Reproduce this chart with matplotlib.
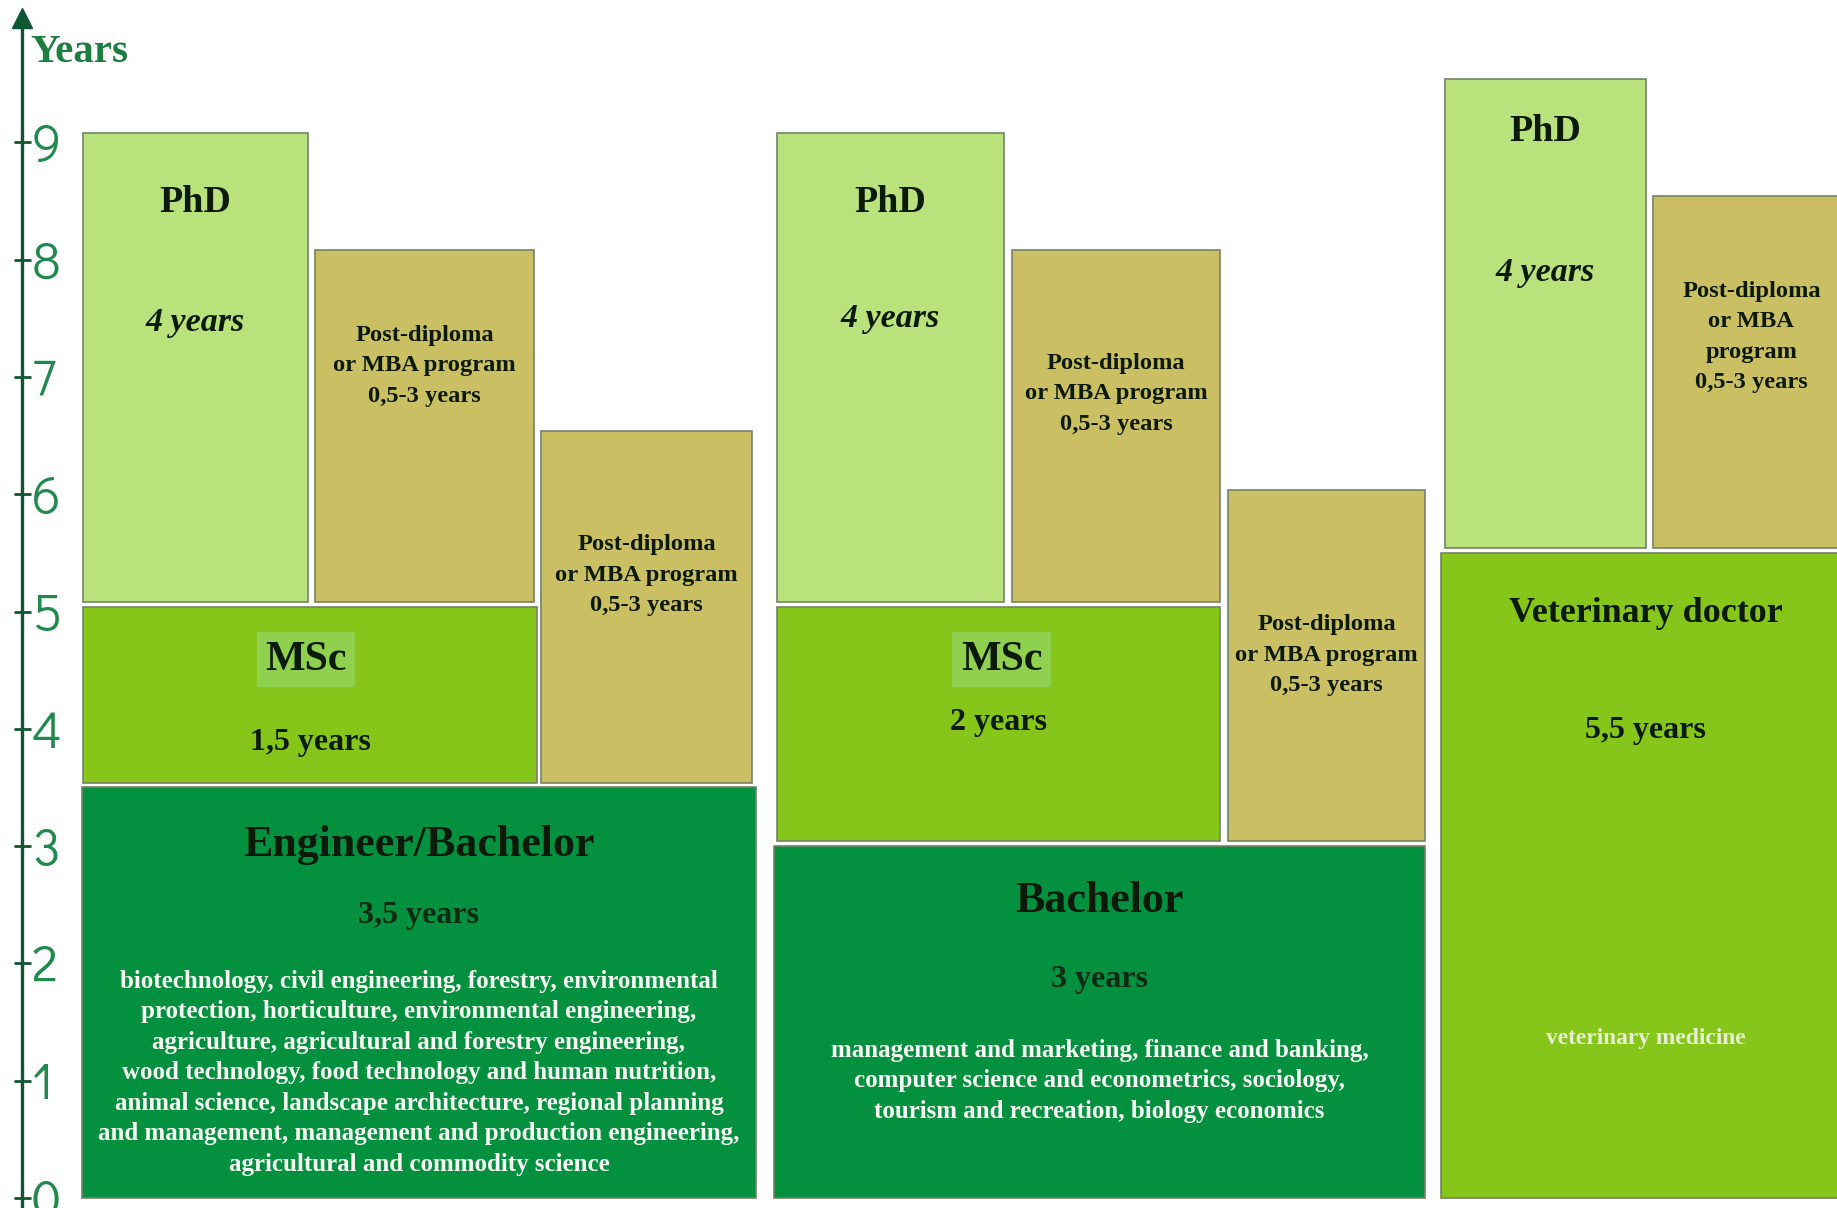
import matplotlib
matplotlib.use("Agg")
import matplotlib.pyplot as plt
from matplotlib.patches import Rectangle

# ---------------------------------------------------------------------------
# Study programmes (durations in years)
# ---------------------------------------------------------------------------
programme_titles = ["Engineer/Bachelor", "MSc", "PhD", "Post-diploma", "Post-diploma",
                    "Bachelor", "MSc", "PhD", "Post-diploma", "Post-diploma",
                    "Veterinary doctor", "PhD", "Post-diploma"]
programme_years = [3.5, 1.5, 4, 3, 3,
                   3, 2, 4, 3, 3,
                   5.5, 4, 3]
# programme each one builds on (-1 = entry level, starts at year 0)
builds_on = [-1, 0, 1, 1, 0,
             -1, 5, 6, 6, 5,
             -1, 10, 10]
duration_labels = ["3,5 years", "1,5 years", "4 years", "0,5-3 years", "0,5-3 years",
                   "3 years", "2 years", "4 years", "0,5-3 years", "0,5-3 years",
                   "5,5 years", "4 years", "0,5-3 years"]
programme_kind = ["first", "msc", "phd", "post", "post",
                  "first", "msc", "phd", "post", "post",
                  "vet", "phd", "post"]

engineer_fields = ["biotechnology, civil engineering, forestry, environmental",
                   "protection, horticulture, environmental engineering,",
                   "agriculture, agricultural and forestry engineering,",
                   "wood technology, food technology and human nutrition,",
                   "animal science, landscape architecture, regional planning",
                   "and management, management and production engineering,",
                   "agricultural and commodity science"]
bachelor_fields = ["management and marketing, finance and banking,",
                   "computer science and econometrics, sociology,",
                   "tourism and recreation, biology economics"]
vet_fields = ["veterinary medicine"]
field_lists = {0: engineer_fields, 5: bachelor_fields, 10: vet_fields}

year_ticks = [0, 1, 2, 3, 4, 5, 6, 7, 8, 9]

# ---------------------------------------------------------------------------
# Layout (horizontal extents in canvas pixels, text offsets below block tops)
# ---------------------------------------------------------------------------
W, H = 1837, 1208
Y0, PPY = 1198.0, 117.3          # pixel row of year 0, pixels per year
GAP = 0.04                        # visual gap between stacked blocks (years)

block_x0 = [82, 83, 83, 315, 541, 774, 777, 777, 1012, 1228, 1441, 1445, 1653]
block_x1 = [756, 537, 308, 534, 752, 1425, 1220, 1004, 1220, 1425, 1850, 1646, 1850]
# (title offset, duration offset, field list offset) in px below the block top
text_offsets = {0: (58, 128, 194), 1: (53, 136), 2: (70, 190), 3: (85,), 4: (114,),
                5: (55, 133, 204), 6: (53, 116), 7: (70, 186), 8: (113,), 9: (135,),
                10: (61, 178, 486), 11: (53, 194), 12: (95,)}
msc_label_shift = {1: -4, 6: 3}
post_lines = {12: ["Post-diploma", "or MBA", "program"]}

colors = {"first": "#03903f", "msc": "#86c51a", "vet": "#86c51a",
          "phd": "#b9e17c", "post": "#cabf62"}
EDGE = "#748466"
DARK = "#0c1a0c"
AXIS_GREEN = "#0e5634"
LABEL_GREEN = "#1f8a4c"

SERIF = ["Liberation Serif", "DejaVu Serif"]
THIN = ["Didact Gothic", "Questrial", "Lato", "DejaVu Sans"]


def pt(px):
    return px * 0.72


fig = plt.figure(figsize=(W / 100, H / 100), dpi=100)
ax = fig.add_axes([0, 0, 1, 1])
ax.set_xlim(0, W)
ax.set_ylim((Y0 - H) / PPY, Y0 / PPY)
ax.set_facecolor("white")

# stacked programme blocks
bottoms, tops = [], []
for i, yrs in enumerate(programme_years):
    base = builds_on[i]
    b = 0.0 if base < 0 else tops[base] + GAP
    bottoms.append(b)
    tops.append(b + yrs)
    ax.add_patch(Rectangle((block_x0[i], b), block_x1[i] - block_x0[i], yrs,
                           facecolor=colors[programme_kind[i]], edgecolor=EDGE,
                           linewidth=1.2, zorder=2))


def put(x, top, off_px, s, size_px, color=DARK, style="normal", bbox=None):
    ax.text(x, top - off_px / PPY, s, ha="center", va="center",
            fontsize=pt(size_px), fontweight="bold", fontstyle=style,
            family=SERIF, color=color, zorder=5, bbox=bbox)


LINE = 30.5
for i, title in enumerate(programme_titles):
    kind = programme_kind[i]
    cx = (block_x0[i] + min(block_x1[i], W + 13)) / 2
    top = tops[i]
    offs = text_offsets[i]
    if kind == "first":
        put(cx, top, offs[0], title, 44)
        put(cx, top, offs[1], duration_labels[i], 32, color="#0d2a12")
        for k, line in enumerate(field_lists[i]):
            put(cx, top, offs[2] + k * LINE, line, 25, color="#f7faf2")
    elif kind == "vet":
        put(cx, top, offs[0], title, 36)
        put(cx, top, offs[1], duration_labels[i], 32)
        for k, line in enumerate(field_lists[i]):
            put(cx, top, offs[2] + k * LINE, line, 23.5, color="#e9efd2")
    elif kind == "msc":
        put(cx + msc_label_shift[i], top, offs[0], title, 42,
            bbox=dict(boxstyle="square,pad=0.2", facecolor="#8fd14f", edgecolor="none"))
        put(cx, top, offs[1], duration_labels[i], 32)
    elif kind == "phd":
        put(cx, top, offs[0], title, 38)
        put(cx, top, offs[1], duration_labels[i], 34, style="italic")
    else:
        lines = post_lines.get(i, ["Post-diploma", "or MBA program"]) + [duration_labels[i]]
        for k, line in enumerate(lines):
            put(cx, top, offs[0] + k * LINE, line, 24.5)

# vertical "Years" axis with arrow head
AXIS_X = 22
for side in ["left", "top", "bottom"]:
    ax.spines[side].set_visible(False)
ax.spines["right"].set_position(("data", AXIS_X))
ax.spines["right"].set_color(AXIS_GREEN)
ax.spines["right"].set_linewidth(2.4)
ax.spines["right"].set_bounds((Y0 - H) / PPY, (Y0 - 22) / PPY)
ax.yaxis.set_ticks_position("right")
ax.set_yticks(year_ticks)
ax.set_yticklabels([str(t) for t in year_ticks], family=THIN,
                   fontsize=pt(52), color=LABEL_GREEN)
ax.tick_params(axis="y", direction="inout", length=pt(17), width=2.0,
               colors=AXIS_GREEN, labelcolor=LABEL_GREEN, pad=1)
ax.set_xticks([])
ax.plot([AXIS_X], [(Y0 - 18) / PPY], marker="^", markersize=pt(20),
        color=AXIS_GREEN, clip_on=False, zorder=6)
ax.text(30, (Y0 - 52) / PPY, "Years", ha="left", va="center",
        fontsize=pt(41), fontweight="bold", family=SERIF, color="#1b7f3f")

fig.savefig("out.png", dpi=100, facecolor="white")
